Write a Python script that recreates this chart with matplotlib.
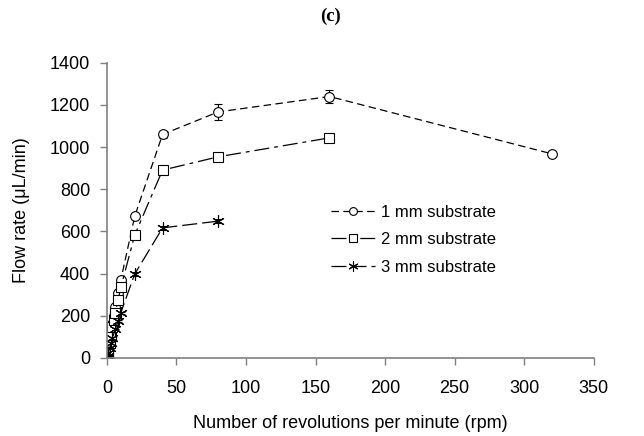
import matplotlib
matplotlib.use("Agg")
from matplotlib import pyplot as plt
from matplotlib.lines import Line2D

# data (c)
rpm_1mm = [0.5, 1, 2, 3, 4, 5, 6, 8, 10, 20, 40, 80, 160, 320]
flow_1mm = [20, 40, 80, 120, 160, 200, 240, 310, 370, 672, 1060, 1167, 1240, 968]
err_1mm = [3, 4, 5, 6, 6, 7, 8, 10, 10, 12, 15, 38, 30, 10]

rpm_2mm = [0.5, 1, 2, 3, 4, 5, 6, 8, 10, 20, 40, 80, 160]
flow_2mm = [15, 35, 70, 110, 145, 180, 215, 275, 335, 583, 891, 954, 1044]
err_2mm = [3, 3, 4, 5, 5, 6, 6, 8, 8, 10, 12, 10, 15]

rpm_3mm = [0.5, 1, 2, 3, 4, 6, 8, 10, 20, 40, 80]
flow_3mm = [10, 25, 45, 70, 95, 135, 175, 215, 398, 617, 649]
err_3mm = [2, 2, 3, 3, 4, 4, 5, 5, 8, 10, 10]

labels = ["1 mm substrate", "2 mm substrate", "3 mm substrate"]

plt.rcParams["font.family"] = ["Liberation Sans", "DejaVu Sans"]
plt.rcParams["font.size"] = 13

fig = plt.figure(figsize=(6.44, 4.36), dpi=100)
ax = fig.add_axes([0.166, 0.179, 0.756, 0.677])

styles = [
    dict(dashes=(6, 3.5), marker="o", ms=7),
    dict(dashes=(12, 4, 3, 4), marker="s", ms=6.5),
    dict(dashes=(12, 4), marker=(6, 2, 0), ms=9),
]
series = [(rpm_1mm, flow_1mm, err_1mm), (rpm_2mm, flow_2mm, err_2mm), (rpm_3mm, flow_3mm, err_3mm)]

handles = []
for (x, y, e), st in zip(series, styles):
    ax.errorbar(x, y, yerr=e, color="black", lw=0.9, mfc="white", mec="black", mew=0.8,
                ecolor="black", elinewidth=0.9, capsize=3, **st)
    h = dict(st)
    h["ms"] = st["ms"] * 0.8
    handles.append(Line2D([], [], color="black", lw=0.9, mfc="white", mec="black", mew=0.8, **h))

ax.set_xlim(0, 350)
ax.set_ylim(0, 1400)
ax.set_xticks(range(0, 351, 50))
ax.set_yticks(range(0, 1401, 200))
ax.spines["top"].set_visible(False)
ax.spines["right"].set_visible(False)
for s in ("left", "bottom"):
    ax.spines[s].set_color("#808080")
    ax.spines[s].set_linewidth(1.2)
ax.tick_params(direction="out", length=5, color="#808080", width=1, pad=7)
ax.tick_params(axis="x", pad=11)

ax.set_xlabel("Number of revolutions per minute (rpm)", labelpad=13)
ax.set_ylabel("Flow rate (\u03bcL/min)", labelpad=14)

ax.legend(handles, labels, loc="upper left", bbox_to_anchor=(0.43, 0.57), frameon=False,
          fontsize=12, handlelength=2.6, handletextpad=0.4, labelspacing=0.75)

fig.text(0.513, 0.963, "(c)", ha="center", va="center", fontsize=13.5,
         fontweight="bold", family="Liberation Serif")

fig.savefig("out.png", dpi=100)
